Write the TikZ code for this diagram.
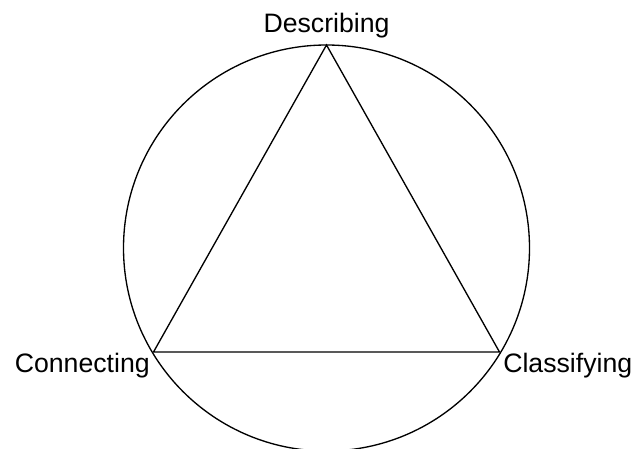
\documentclass[tikz,border=0pt]{standalone}
\usepackage{fontspec}
\setmainfont{Liberation Sans}
\usetikzlibrary{positioning}

\begin{document}
\begin{tikzpicture}[x=0.75pt, y=-0.75pt,
    edge/.style={line width=1pt},
    lbl/.style={font=\fontsize{20}{24}\selectfont, inner sep=0pt}]
  \useasboundingbox (0,0) rectangle (636,449);
  \coordinate (C) at (326.5,248);
  \coordinate (D) at (326.5,45);
  \coordinate (L) at (153.5,352);
  \coordinate (R) at (499.5,352);
  \draw[edge] (C) circle[radius=203];
  \draw[edge, line join=miter] (D) -- (L) -- (R) -- cycle;
  \node[lbl, anchor=base] (describing) at (326.5,33) {Describing};
  \node[lbl, anchor=base east] (connecting) at (150,372) {Connecting};
  \node[lbl, anchor=base west] (classifying) at (503,372) {Classifying};
\end{tikzpicture}
\end{document}
